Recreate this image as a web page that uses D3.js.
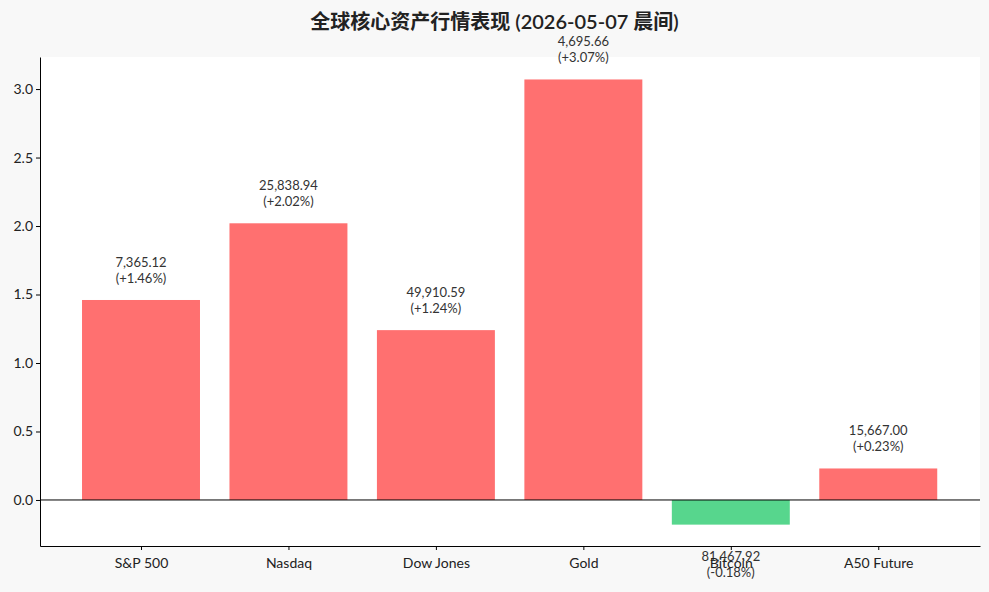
<!DOCTYPE html>
<html><head><meta charset="utf-8">
<script src="https://cdn.jsdelivr.net/npm/d3@7"></script>
<style>
body{margin:0;background:#f8f8f8;font-family:Lato,"Noto Sans CJK SC",sans-serif;}
</style></head><body>
<svg id="chart" width="989" height="592"></svg>
<script>
var names = ['S&P 500', 'Nasdaq', 'Dow Jones', 'Gold', 'Bitcoin', 'A50 Future'];
var prices = ['7,365.12', '25,838.94', '49,910.59', '4,695.66', '81,467.92', '15,667.00'];
var changes = [1.46, 2.02, 1.24, 3.07, -0.18, 0.23];
var y_ticks = [0, 0.5, 1, 1.5, 2, 2.5, 3];

var margin = {top: 57, right: 9, bottom: 46, left: 40},
    width = 989 - margin.left - margin.right,
    height = 592 - margin.top - margin.bottom;

var svg = d3.select('#chart');
svg.append('rect').attr('width', 989).attr('height', 592).attr('fill', '#f8f8f8');

svg.append('text')
  .attr('x', 494.5).attr('y', 29)
  .attr('text-anchor', 'middle')
  .attr('font-size', 20).attr('font-weight', 600).attr('fill', '#222')
  .text('全球核心资产行情表现 (2026-05-07 晨间)');

var g = svg.append('g').attr('transform', 'translate(' + margin.left + ',' + margin.top + ')');
g.append('rect').attr('width', width).attr('height', height).attr('fill', '#fff');

var x = d3.scaleLinear().domain([-0.685, 5.69]).range([0, width]);
var y = d3.scaleLinear().domain([-0.336, 3.234]).range([height, 0]);
var bw = x(0.4) - x(-0.4);

g.selectAll('rect.bar')
  .data(changes)
  .enter()
  .append('rect')
  .attr('class', 'bar')
  .attr('x', function(d, i) { return x(i) - bw/2; })
  .attr('width', bw)
  .attr('y', function(d) { return y(Math.max(0, d)); })
  .attr('height', function(d) { return Math.abs(y(d) - y(0)); })
  .attr('fill', function(d) { return d >= 0 ? '#ff7070' : '#57d68d'; });

// zero line
g.append('line').attr('x1', 0).attr('x2', width)
  .attr('y1', y(0)).attr('y2', y(0)).attr('stroke', '#000').attr('stroke-width', 1);

// value labels
var lab = g.selectAll('text.val')
  .data(changes)
  .enter()
  .append('text')
  .attr('class', 'val')
  .attr('text-anchor', 'middle')
  .attr('font-size', 13).attr('fill', '#333')
  .attr('transform', function(d, i) {
    var ty = d >= 0 ? y(d) - 33 : y(d) + 36;
    return 'translate(' + x(i) + ',' + ty + ')';
  });
lab.append('tspan').attr('x', 0).attr('y', 0).text(function(d, i) { return prices[i]; });
lab.append('tspan').attr('x', 0).attr('y', 16).text(function(d) {
  return '(' + (d >= 0 ? '+' : '') + d.toFixed(2) + '%)';
});

var yAxis = g.append('g')
  .call(d3.axisLeft(y).tickValues(y_ticks).tickFormat(d3.format('.1f')).tickSize(4).tickSizeOuter(0));
var xAxis = g.append('g').attr('transform', 'translate(0,' + height + ')')
  .call(d3.axisBottom(x).tickValues(d3.range(names.length)).tickFormat(function(d) { return names[d]; }).tickSize(4).tickSizeOuter(0));
[yAxis, xAxis].forEach(function(a) {
  a.selectAll('text').attr('font-size', 14).attr('fill', '#222').style('font-family', 'Lato, sans-serif');
  a.select('.domain').attr('stroke', '#000');
});
xAxis.selectAll('text').attr('dy', '1.1em');
</script>
</body></html>
